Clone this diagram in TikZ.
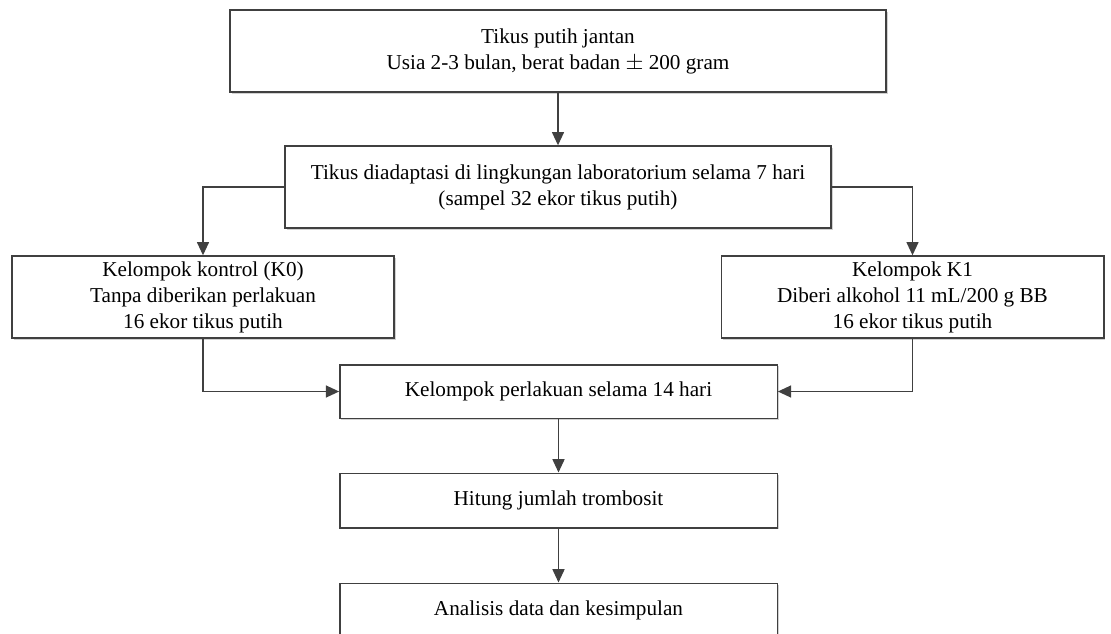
\documentclass[tikz,border=0pt]{standalone}
\usepackage{fontspec}
\setmainfont{Liberation Serif}
\usepackage{tikz}
\usetikzlibrary{positioning, arrows.meta, shadows}

\definecolor{lineGray}{RGB}{64,64,64}

\tikzset{
  flowbox/.style={draw=lineGray, line width=1pt, fill=white, inner sep=0pt, align=center,
    font=\fontsize{15.9}{19.5}\selectfont, minimum height=61.5pt,
    drop shadow={shadow xshift=1.2pt, shadow yshift=-1.2pt, fill=black!18, opacity=1}},
  flowline/.style={draw=lineGray, line width=1.2pt, -{Triangle[length=10pt,width=9pt]}},
}

\begin{document}
\begin{tikzpicture}[x=0.75pt,y=0.75pt,yscale=-1,xscale=1]
\useasboundingbox (0,0) rectangle (1111,633);

% Boxes
\node [flowbox, minimum width=492pt] (tikus) at (558,51) {Tikus putih jantan\\Usia 2-3 bulan, berat badan $\pm$ 200 gram};
\node [flowbox, minimum width=409.5pt] (adaptasi) at (558,187) {Tikus diadaptasi di lingkungan laboratorium selama 7 hari\\(sampel 32 ekor tikus putih)};
\node [flowbox, minimum width=286.5pt] (kontrol) at (203,297) {Kelompok kontrol (K0)\\Tanpa diberikan perlakuan\\16 ekor tikus putih};
\node [flowbox, minimum width=287pt] (kone) at (912.5,297) {Kelompok K1\\Diberi alkohol 11 mL/200 g BB\\16 ekor tikus putih};
\node [flowbox, minimum width=328pt, minimum height=40pt] (perlakuan) at (558.5,391.5) {Kelompok perlakuan selama 14 hari};
\node [flowbox, minimum width=328pt, minimum height=41pt] (hitung) at (558.5,500.5) {Hitung jumlah trombosit};
\node [flowbox, minimum width=328pt, minimum height=41pt] (analisis) at (558.5,610.5) {Analisis data dan kesimpulan};

% Connectors
\draw [flowline] (tikus) -- (adaptasi);
\draw [flowline] (adaptasi.west) -| (kontrol.north);
\draw [flowline] (adaptasi.east) -| (kone.north);
\draw [flowline] (kontrol.south) |- (perlakuan.west);
\draw [flowline] (kone.south) |- (perlakuan.east);
\draw [flowline] (perlakuan) -- (hitung);
\draw [flowline] (hitung) -- (analisis);

\end{tikzpicture}
\end{document}
